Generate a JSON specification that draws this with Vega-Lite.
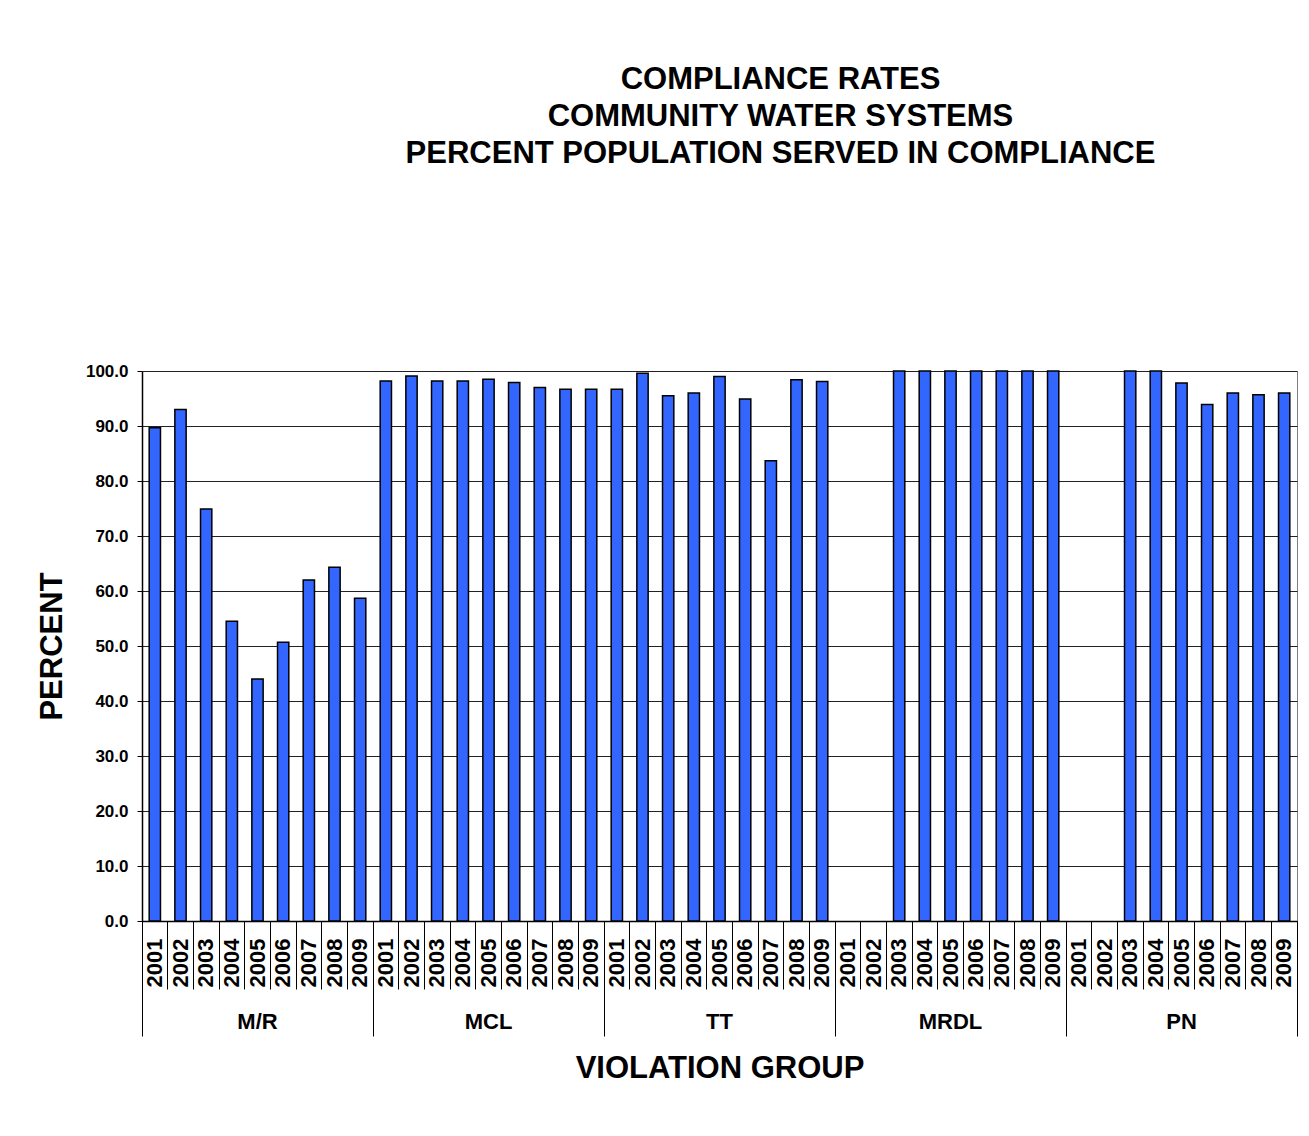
{
  "$schema": "https://vega.github.io/schema/vega-lite/v6.json",
  "width": 1155,
  "height": 550,
  "autosize": {"type": "none"},
  "padding": {"left": 142, "top": 371, "right": 12, "bottom": 215},
  "background": "white",
  "title": {
    "text": ["COMPLIANCE RATES", "COMMUNITY WATER SYSTEMS", "PERCENT POPULATION SERVED IN COMPLIANCE"],
    "font": "Liberation Sans",
    "fontSize": 31,
    "fontWeight": "bold",
    "color": "black",
    "anchor": "middle",
    "frame": "group",
    "dx": 61,
    "offset": 192,
    "lineHeight": 37
  },
  "config": {
    "view": {"stroke": "#808080", "strokeWidth": 1},
    "axis": {
      "labelFont": "Liberation Sans",
      "titleFont": "Liberation Sans",
      "labelColor": "black",
      "titleColor": "black",
      "tickColor": "black",
      "domainColor": "black",
      "labelFontWeight": "bold",
      "titleFontWeight": "bold"
    }
  },
  "data": {
    "values": [
      {"group": "M/R", "year": "2001", "key": "M/R|2001", "value": 89.7},
      {"group": "M/R", "year": "2002", "key": "M/R|2002", "value": 93.0},
      {"group": "M/R", "year": "2003", "key": "M/R|2003", "value": 74.9},
      {"group": "M/R", "year": "2004", "key": "M/R|2004", "value": 54.5},
      {"group": "M/R", "year": "2005", "key": "M/R|2005", "value": 44.0},
      {"group": "M/R", "year": "2006", "key": "M/R|2006", "value": 50.7},
      {"group": "M/R", "year": "2007", "key": "M/R|2007", "value": 62.0},
      {"group": "M/R", "year": "2008", "key": "M/R|2008", "value": 64.3},
      {"group": "M/R", "year": "2009", "key": "M/R|2009", "value": 58.7},
      {"group": "MCL", "year": "2001", "key": "MCL|2001", "value": 98.2},
      {"group": "MCL", "year": "2002", "key": "MCL|2002", "value": 99.1},
      {"group": "MCL", "year": "2003", "key": "MCL|2003", "value": 98.2},
      {"group": "MCL", "year": "2004", "key": "MCL|2004", "value": 98.2},
      {"group": "MCL", "year": "2005", "key": "MCL|2005", "value": 98.5},
      {"group": "MCL", "year": "2006", "key": "MCL|2006", "value": 97.9},
      {"group": "MCL", "year": "2007", "key": "MCL|2007", "value": 97.0},
      {"group": "MCL", "year": "2008", "key": "MCL|2008", "value": 96.7},
      {"group": "MCL", "year": "2009", "key": "MCL|2009", "value": 96.7},
      {"group": "TT", "year": "2001", "key": "TT|2001", "value": 96.7},
      {"group": "TT", "year": "2002", "key": "TT|2002", "value": 99.6},
      {"group": "TT", "year": "2003", "key": "TT|2003", "value": 95.5},
      {"group": "TT", "year": "2004", "key": "TT|2004", "value": 96.0},
      {"group": "TT", "year": "2005", "key": "TT|2005", "value": 99.0},
      {"group": "TT", "year": "2006", "key": "TT|2006", "value": 94.9},
      {"group": "TT", "year": "2007", "key": "TT|2007", "value": 83.7},
      {"group": "TT", "year": "2008", "key": "TT|2008", "value": 98.4},
      {"group": "TT", "year": "2009", "key": "TT|2009", "value": 98.1},
      {"group": "MRDL", "year": "2001", "key": "MRDL|2001", "value": null},
      {"group": "MRDL", "year": "2002", "key": "MRDL|2002", "value": null},
      {"group": "MRDL", "year": "2003", "key": "MRDL|2003", "value": 100.0},
      {"group": "MRDL", "year": "2004", "key": "MRDL|2004", "value": 100.0},
      {"group": "MRDL", "year": "2005", "key": "MRDL|2005", "value": 100.0},
      {"group": "MRDL", "year": "2006", "key": "MRDL|2006", "value": 100.0},
      {"group": "MRDL", "year": "2007", "key": "MRDL|2007", "value": 100.0},
      {"group": "MRDL", "year": "2008", "key": "MRDL|2008", "value": 100.0},
      {"group": "MRDL", "year": "2009", "key": "MRDL|2009", "value": 100.0},
      {"group": "PN", "year": "2001", "key": "PN|2001", "value": null},
      {"group": "PN", "year": "2002", "key": "PN|2002", "value": null},
      {"group": "PN", "year": "2003", "key": "PN|2003", "value": 100.0},
      {"group": "PN", "year": "2004", "key": "PN|2004", "value": 100.0},
      {"group": "PN", "year": "2005", "key": "PN|2005", "value": 97.8},
      {"group": "PN", "year": "2006", "key": "PN|2006", "value": 93.9},
      {"group": "PN", "year": "2007", "key": "PN|2007", "value": 96.0},
      {"group": "PN", "year": "2008", "key": "PN|2008", "value": 95.7},
      {"group": "PN", "year": "2009", "key": "PN|2009", "value": 96.0}
    ]
  },
  "resolve": {"axis": {"x": "independent"}},
  "layer": [
    {
      "mark": {"type": "bar", "width": {"band": 0.44}, "fill": "#3366FF", "stroke": "black", "strokeWidth": 1.5},
      "encoding": {
        "x": {
          "field": "key", "type": "nominal",
          "scale": {"domain": ["M/R|2001","M/R|2002","M/R|2003","M/R|2004","M/R|2005","M/R|2006","M/R|2007","M/R|2008","M/R|2009","MCL|2001","MCL|2002","MCL|2003","MCL|2004","MCL|2005","MCL|2006","MCL|2007","MCL|2008","MCL|2009","TT|2001","TT|2002","TT|2003","TT|2004","TT|2005","TT|2006","TT|2007","TT|2008","TT|2009","MRDL|2001","MRDL|2002","MRDL|2003","MRDL|2004","MRDL|2005","MRDL|2006","MRDL|2007","MRDL|2008","MRDL|2009","PN|2001","PN|2002","PN|2003","PN|2004","PN|2005","PN|2006","PN|2007","PN|2008","PN|2009"], "paddingInner": 0, "paddingOuter": 0},
          "axis": {
            "orient": "bottom",
            "title": null,
            "bandPosition": 0,
            "tickSize": 68,
            "tickWidth": 1,
            "labelExpr": "split(datum.value, '|')[1]",
            "labelAngle": 270,
            "labelAlign": "right",
            "labelBaseline": "middle",
            "labelPadding": -51,
            "labelFontSize": 22,
            "labelOverlap": false,
            "labelBound": false,
            "domainWidth": 1.5
          }
        },
        "y": {
          "field": "value", "type": "quantitative",
          "scale": {"domain": [0, 100], "nice": false},
          "axis": {
            "title": "PERCENT",
            "titleFontSize": 31,
            "titleAngle": 270,
            "titleX": -90,
            "titleY": 275,
            "titleAlign": "center",
            "titleBaseline": "middle",
            "values": [0, 10, 20, 30, 40, 50, 60, 70, 80, 90, 100],
            "format": ".1f",
            "labelFontSize": 17,
            "labelPadding": 9,
            "tickSize": 5,
            "grid": true,
            "gridColor": "#222222",
            "gridWidth": 1,
            "domainWidth": 1.5
          }
        }
      }
    },
    {
      "mark": {"type": "point", "opacity": 0},
      "encoding": {
        "x": {
          "field": "key", "type": "nominal",
          "scale": {"domain": ["M/R|2001","M/R|2002","M/R|2003","M/R|2004","M/R|2005","M/R|2006","M/R|2007","M/R|2008","M/R|2009","MCL|2001","MCL|2002","MCL|2003","MCL|2004","MCL|2005","MCL|2006","MCL|2007","MCL|2008","MCL|2009","TT|2001","TT|2002","TT|2003","TT|2004","TT|2005","TT|2006","TT|2007","TT|2008","TT|2009","MRDL|2001","MRDL|2002","MRDL|2003","MRDL|2004","MRDL|2005","MRDL|2006","MRDL|2007","MRDL|2008","MRDL|2009","PN|2001","PN|2002","PN|2003","PN|2004","PN|2005","PN|2006","PN|2007","PN|2008","PN|2009"], "paddingInner": 0, "paddingOuter": 0},
          "axis": {
            "orient": "bottom",
            "domain": false,
            "values": ["M/R|2001", "MCL|2001", "TT|2001", "MRDL|2001", "PN|2001"],
            "bandPosition": 0,
            "tickSize": 115,
            "tickWidth": 1,
            "labelExpr": "split(datum.value, '|')[0]",
            "labelOffset": 102.67,
            "labelAngle": 0,
            "labelAlign": "center",
            "labelBaseline": "top",
            "labelPadding": -25,
            "labelFontSize": 22,
            "labelOverlap": false,
            "labelBound": false,
            "title": "VIOLATION GROUP",
            "titleFontSize": 31,
            "titleX": 577.5,
            "titleY": 147,
            "titleAlign": "center",
            "titleBaseline": "middle"
          }
        }
      }
    },
    {
      "mark": {"type": "point", "opacity": 0},
      "encoding": {
        "x": {
          "field": "key", "type": "nominal",
          "scale": {"domain": ["M/R|2001","M/R|2002","M/R|2003","M/R|2004","M/R|2005","M/R|2006","M/R|2007","M/R|2008","M/R|2009","MCL|2001","MCL|2002","MCL|2003","MCL|2004","MCL|2005","MCL|2006","MCL|2007","MCL|2008","MCL|2009","TT|2001","TT|2002","TT|2003","TT|2004","TT|2005","TT|2006","TT|2007","TT|2008","TT|2009","MRDL|2001","MRDL|2002","MRDL|2003","MRDL|2004","MRDL|2005","MRDL|2006","MRDL|2007","MRDL|2008","MRDL|2009","PN|2001","PN|2002","PN|2003","PN|2004","PN|2005","PN|2006","PN|2007","PN|2008","PN|2009"], "paddingInner": 0, "paddingOuter": 0},
          "axis": {
            "orient": "bottom",
            "domain": false,
            "values": ["PN|2009"],
            "bandPosition": 1,
            "tickSize": 115,
            "tickWidth": 1,
            "labels": false,
            "title": null
          }
        }
      }
    }
  ]
}
